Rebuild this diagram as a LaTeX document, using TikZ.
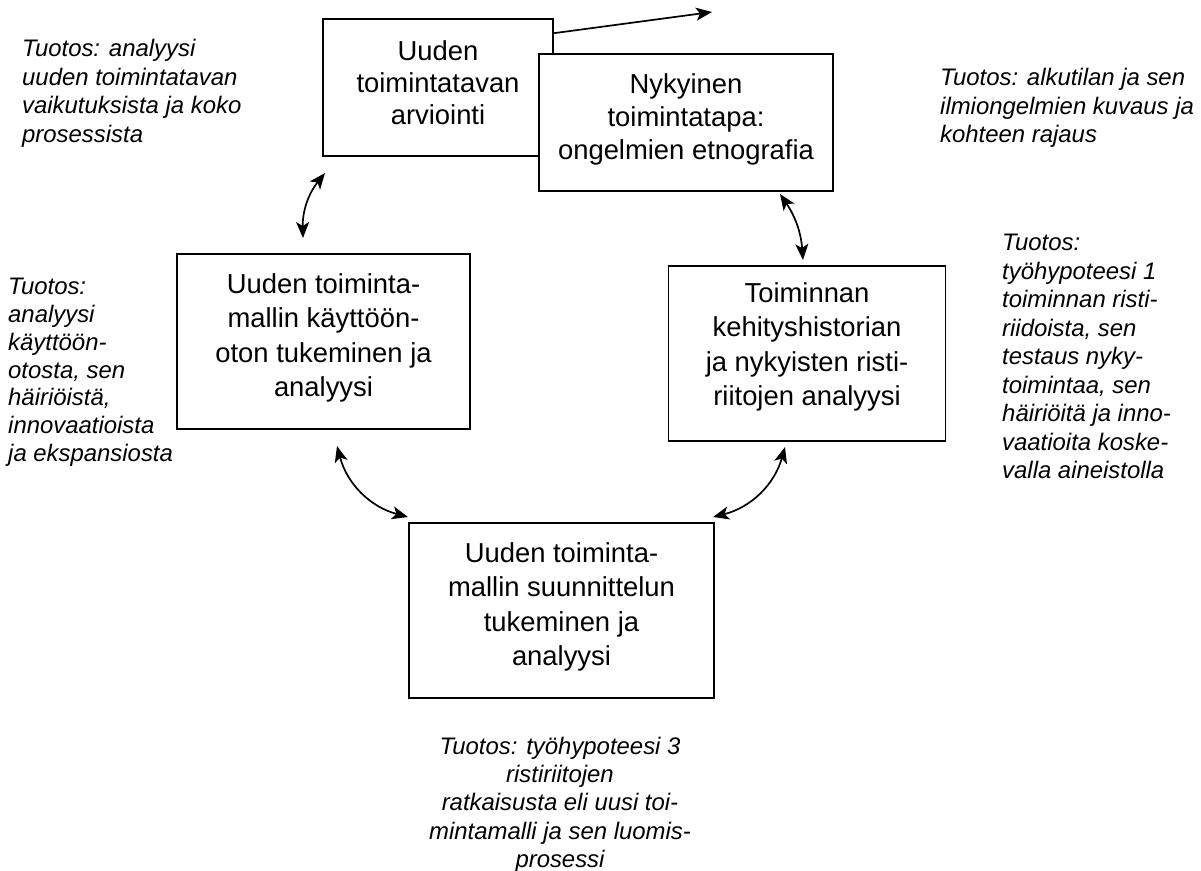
\documentclass[tikz,border=0pt]{standalone}
\usepackage{fontspec}
\setmainfont{Liberation Sans}
\usetikzlibrary{arrows.meta}
\begin{document}
\begin{tikzpicture}[x=1pt,y=-1pt,
  box/.style={draw, line width=1.6pt, fill=white, inner sep=0pt},
  boxtext/.style={align=center, inner sep=0pt, anchor=north, font=\fontsize{27.4}{34.5}\selectfont},
  lab/.style={align=left, inner sep=0pt, anchor=north west, font=\fontsize{23.9}{28.5}\selectfont\itshape},
  labc/.style={align=center, inner sep=0pt, anchor=north, font=\fontsize{23.9}{28.2}\selectfont\itshape},
  dbl/.style={line width=1.7pt, {Stealth[length=16pt,width=13pt,inset=4pt]}-{Stealth[length=16pt,width=13pt,inset=4pt]}},
  sgl/.style={line width=1.7pt, -{Stealth[length=16pt,width=13pt,inset=4pt]}}
]
\useasboundingbox[fill=white] (0,0) rectangle (1201,870);

% boxes
\node[box, minimum width=230pt, minimum height=137pt] (A) at (438,87.5) {};
\node[box, minimum width=294pt, minimum height=137pt] (B) at (686,122.5) {};
\node[box, minimum width=293pt, minimum height=175pt] (C) at (323.5,341.5) {};
\node[box, minimum width=277pt, minimum height=175pt] (D) at (807,353.5) {};
\node[box, minimum width=305pt, minimum height=175pt] (E) at (561.5,610.5) {};

% box texts
\node[boxtext, font=\fontsize{27.4}{32}\selectfont] (At) at (438,40) {Uuden\\toimintatavan\\arviointi};
\node[boxtext, font=\fontsize{27.4}{33}\selectfont] (Bt) at (686,73) {Nykyinen\\toimintatapa:\\ongelmien etnografia};
\node[boxtext] (Ct) at (323.5,273) {Uuden toiminta-\\mallin käyttöön-\\oton tukeminen ja\\analyysi};
\node[boxtext] (Dt) at (807,282) {Toiminnan\\kehityshistorian\\ja nykyisten risti-\\riitojen analyysi};
\node[boxtext] (Et) at (561.5,542) {Uuden toiminta-\\mallin suunnittelun\\tukeminen ja\\analyysi};

% labels
\node[lab] (L1) at (22,39) {Tuotos: analyysi\\uuden toimintatavan\\vaikutuksista ja koko\\prosessista};
\node[lab] (L2) at (940,68) {Tuotos: alkutilan ja sen\\ilmiongelmien kuvaus ja\\kohteen rajaus};
\node[lab] (L3) at (1002,234) {Tuotos:\\työhypoteesi 1\\toiminnan risti-\\riidoista, sen\\testaus nyky-\\toimintaa, sen\\häiriöitä ja inno-\\vaatioita koske-\\valla aineistolla};
\node[lab, font=\fontsize{23.9}{27.8}\selectfont\itshape] (L4) at (8,278) {Tuotos:\\analyysi\\käyttöön-\\otosta, sen\\häiriöistä,\\innovaatioista\\ja ekspansiosta};
\node[labc] (L5) at (560,737) {Tuotos: työhypoteesi 3\\ristiriitojen\\ratkaisusta eli uusi toi-\\mintamalli ja sen luomis-\\prosessi};

% connector end points
\coordinate (topend) at (712,12);
\coordinate (p1a) at (303,238);
\coordinate (p1b) at (325,173);
\coordinate (p2a) at (780,194);
\coordinate (p2b) at (803,260);
\coordinate (p3a) at (337,446);
\coordinate (p3b) at (408,517);
\coordinate (p4a) at (785,447);
\coordinate (p4b) at (713,517);

% connectors
\draw[sgl] ([yshift=-15pt]A.north east) -- (topend);
\draw[dbl] (p1a) to[bend left=20] (p1b);
\draw[dbl] (p2a) to[bend left=15] (p2b);
\draw[dbl] (p3a) to[bend right=30] (p3b);
\draw[dbl] (p4a) to[bend left=30] (p4b);
\end{tikzpicture}
\end{document}
